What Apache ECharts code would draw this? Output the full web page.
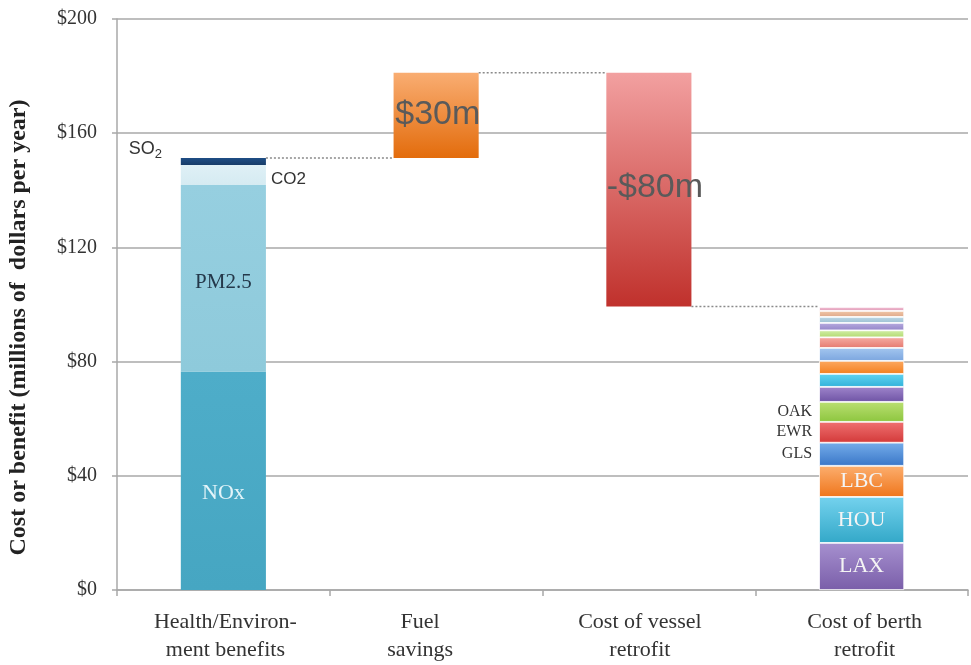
<!DOCTYPE html>
<html>
<head>
<meta charset="utf-8">
<script src="https://cdn.jsdelivr.net/npm/echarts@6/dist/echarts.min.js"></script>
<style>html,body{margin:0;padding:0;background:#fff}#c{width:971px;height:665px}</style>
</head>
<body>
<div id="c"></div>
<script>
// ---- data ----
const categories = ['Health/Environ-\nment benefits', 'Fuel\nsavings', 'Cost of vessel\nretrofit', 'Cost of berth\nretrofit'];
const healthNames = ['NOx', 'PM2.5', 'CO2', 'SO2'];
const healthValues = [76.5, 65.4, 7.0, 2.4];
const fuelSavings = 29.9;
const vesselCost = 81.9;
const berthNames = ['LAX', 'HOU', 'LBC', 'GLS', 'EWR', 'OAK', 'Port 7', 'Port 8', 'Port 9', 'Port 10', 'Port 11', 'Port 12', 'Port 13', 'Port 14', 'Port 15', 'Port 16'];
const berthValues = [16.5, 16.1, 10.9, 8.1, 7.3, 7.0, 5.25, 4.55, 4.55, 4.55, 3.7, 2.45, 2.6, 2.1, 2.1, 1.4];
const yMin = 0, yMax = 200, yInterval = 40;

// ---- derived ----
const healthTotal = healthValues.reduce((a, b) => a + b, 0);
const fuelTop = healthTotal + fuelSavings;
const vesselBottom = fuelTop - vesselCost;
const baseValues = ['-', healthTotal, vesselBottom, '-'];
const connectors = [[0, healthTotal], [1, fuelTop], [2, vesselBottom]];

// ---- styles ----
const SERIF = '"Liberation Serif", "DejaVu Serif", serif';
const SANS = '"Liberation Sans", Arial, sans-serif';
function grad(top, bottom) {
  return new echarts.graphic.LinearGradient(0, 0, 0, 1, [{offset: 0, color: top}, {offset: 1, color: bottom}]);
}
const healthColors = [
  grad('#4eadc9', '#46a6c2'),
  grad('#96cfe0', '#8ecadb'),
  grad('#dff0f6', '#d5ebf2'),
  grad('#1f4e85', '#173c69')
];
const healthLabels = [
  {show: true, formatter: '{a}', position: ['50%', 122], align: 'center', verticalAlign: 'middle', fontFamily: SERIF, fontSize: 22, color: '#e3f4f9'},
  {show: true, formatter: '{a}', position: ['50%', 98], align: 'center', verticalAlign: 'middle', fontFamily: SERIF, fontSize: 21, color: '#24384a'},
  {show: true, formatter: '{a}', position: 'right', distance: 5, offset: [0, 4], fontFamily: SANS, fontSize: 17, color: '#333'},
  {show: true, position: [-52, -9], align: 'left', verticalAlign: 'middle', fontFamily: SANS, fontSize: 18, color: '#333',
   formatter: '{a|SO}{b|2}', rich: {a: {fontFamily: SANS, fontSize: 18, color: '#333'}, b: {fontFamily: SANS, fontSize: 13, color: '#333', padding: [10, 0, 0, 0]}}}
];
const berthColors = [
  ['#a690cf', '#7a5ea9'], ['#74d2ee', '#33a8c8'], ['#fcae6e', '#ef761c'], ['#74acea', '#3a77c8'],
  ['#ef7070', '#d33a3a'], ['#badf72', '#8dc63f'], ['#9e84cb', '#6f54a5'], ['#62d3f1', '#31b2da'],
  ['#fca860', '#f4801f'], ['#a3c6ef', '#7ca6df'], ['#f5aca3', '#e57a70'], ['#d1efa5', '#b3da72'],
  ['#b7abdf', '#9385c8'], ['#bed9e6', '#9cc0d3'], ['#f2c8a8', '#dea88a'], ['#f3c0d5', '#df9bb6']
];
function berthLabel(i) {
  if (i < 3) return {show: true, position: 'inside', fontFamily: SERIF, fontSize: 22, color: '#f4f4f4', formatter: '{a}'};
  if (i < 6) return {show: true, position: 'left', distance: 7, fontFamily: SERIF, fontSize: 16, color: '#333', formatter: '{a}'};
  return {show: false};
}

const series = [];
series.push({type: 'bar', stack: 'w', data: baseValues, barWidth: '40%', itemStyle: {color: 'transparent'}, silent: true});
healthNames.forEach((n, i) => {
  series.push({name: n, type: 'bar', stack: 'w', barWidth: '40%',
    data: [healthValues[i], '-', '-', '-'], itemStyle: {color: healthColors[i]}, label: healthLabels[i]});
});
series.push({name: 'Fuel savings', type: 'bar', stack: 'w', barWidth: '40%',
  data: ['-', fuelSavings, '-', '-'],
  itemStyle: {color: grad('#f9ad72', '#e36c0c')},
  label: {show: true, position: ['52%', 42], align: 'center', verticalAlign: 'middle', fontFamily: SANS, fontSize: 34, color: '#5a5a5a', formatter: '$30m'}});
series.push({name: 'Vessel retrofit', type: 'bar', stack: 'w', barWidth: '40%',
  data: ['-', '-', vesselCost, '-'],
  itemStyle: {color: grad('#f2a0a0', '#c0312c')},
  label: {show: true, position: ['57%', 115], align: 'center', verticalAlign: 'middle', fontFamily: SANS, fontSize: 34, color: '#5a5a5a', formatter: '-$80m'}});
berthNames.forEach((n, i) => {
  series.push({name: n, type: 'bar', stack: 'w', barWidth: '40%',
    data: ['-', '-', '-', berthValues[i]],
    itemStyle: {color: grad(berthColors[i][0], berthColors[i][1]), borderColor: '#fff', borderWidth: 0.8},
    label: berthLabel(i)});
});
series.push({type: 'custom', data: connectors, encode: {x: 0, y: 1}, silent: true, z: 5,
  renderItem: function (params, api) {
    const i = api.value(0), v = api.value(1);
    const p0 = api.coord([i, v]), p1 = api.coord([i + 1, v]);
    const hw = api.size([1, 0])[0] * 0.4 / 2;
    return {type: 'line', shape: {x1: p0[0] + hw, y1: p0[1], x2: p1[0] - hw, y2: p1[1]},
      style: {stroke: '#8a8a8a', lineWidth: 1.5, lineDash: [2, 2]}};
  }});

// per-category label shift (text is slightly off-centre in the original)
const labelShift = [{padding: [0, 0, 0, 4]}, {padding: [0, 32, 0, 0]}, {padding: [0, 18, 0, 0]}, {padding: [0, 0, 0, 6]}];
const rich = {};
labelShift.forEach((s, i) => { rich['r' + i] = {fontFamily: SERIF, fontSize: 22, color: '#333', lineHeight: 28, padding: s.padding}; });

const chart = echarts.init(document.getElementById('c'), null, {renderer: 'canvas'});
chart.setOption({
  animation: false,
  grid: {left: 117, right: 3, top: 19, bottom: 75, containLabel: false, outerBoundsMode: 'none'},
  xAxis: {
    type: 'category', data: categories,
    axisLine: {lineStyle: {color: '#a8a8a8', width: 1.5}},
    axisTick: {show: true, interval: 0, length: 6, lineStyle: {color: '#a8a8a8', width: 1.5}},
    axisLabel: {interval: 0, hideOverlap: false, fontFamily: SERIF, fontSize: 22, color: '#333', lineHeight: 28, margin: 18, rich: rich,
      formatter: function (v, idx) { return v.split('\n').map(l => '{r' + idx + '|' + l + '}').join('\n'); }}
  },
  yAxis: {
    type: 'value', min: yMin, max: yMax, interval: yInterval,
    name: 'Cost or benefit (millions of  dollars per year)', nameLocation: 'middle', nameGap: 86,
    nameTextStyle: {fontFamily: SERIF, fontSize: 24, fontWeight: 'bold', color: '#222', padding: [0, 46, 0, 0]},
    axisLine: {show: true, lineStyle: {color: '#a8a8a8', width: 1.5}},
    axisTick: {show: true, length: 5, lineStyle: {color: '#a8a8a8', width: 1.5}},
    splitLine: {lineStyle: {color: '#a8a8a8', width: 1.5}},
    axisLabel: {fontFamily: SERIF, fontSize: 20, color: '#333', margin: 20, formatter: v => '$' + v}
  },
  series: series
});
</script>
</body>
</html>
